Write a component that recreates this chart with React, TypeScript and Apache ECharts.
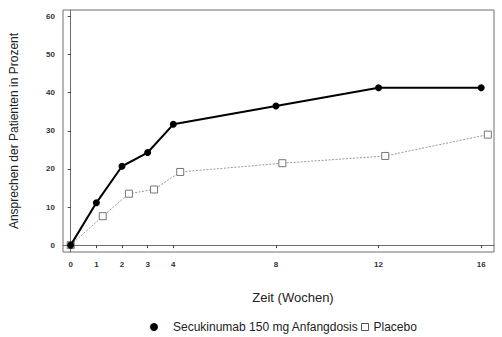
import React, { useEffect, useRef } from "react";
import * as echarts from "echarts";

const weeks = [0, 1, 2, 3, 4, 8, 12, 16];
const secukinumabValues = [0, 11.1, 20.7, 24.3, 31.7, 36.5, 41.3, 41.3];
const placeboWeeks = [0, 1.25, 2.27, 3.25, 4.27, 8.25, 12.26, 16.26];
const placeboValues = [0, 7.6, 13.5, 14.6, 19.2, 21.5, 23.4, 29.0];
const xTicks = [0, 1, 2, 3, 4, 8, 12, 16];
const yTicks = [0, 10, 20, 30, 40, 50, 60];
const secName = "Secukinumab 150 mg Anfangdosis";
const placeboName = "Placebo";

export default function App() {
  const ref = useRef<HTMLDivElement>(null);
  useEffect(() => {
    document.body.style.margin = "0";
    const chart = echarts.init(ref.current!, null, { renderer: "svg" });
    const font = "Arial, 'Liberation Sans', sans-serif";
    chart.setOption({
      animation: false,
      backgroundColor: "#ffffff",
      textStyle: { fontFamily: font },
      grid: {
        left: 61,
        top: 10,
        right: 8,
        bottom: 85,
        show: true,
        borderColor: "#6e6e6e",
        borderWidth: 1,
        containLabel: false,
      },
      xAxis: {
        type: "value",
        min: -0.3,
        max: 16.5,
        axisLine: { show: true, lineStyle: { color: "#6e6e6e" } },
        axisTick: {
          show: true,
          length: 3,
          customValues: xTicks,
          lineStyle: { color: "#444" },
        },
        axisLabel: {
          customValues: xTicks,
          margin: 8,
          fontSize: 8,
          fontWeight: "bold",
          color: "#333",
          fontFamily: font,
        },
        splitLine: { show: false },
      },
      yAxis: {
        type: "value",
        min: -1.8,
        max: 61.7,
        name: "Ansprechen der Patienten in Prozent",
        nameLocation: "middle",
        nameRotate: 90,
        nameGap: 43,
        nameTextStyle: { fontSize: 12, color: "#222", fontFamily: font },
        axisLine: { show: true, lineStyle: { color: "#6e6e6e" } },
        axisTick: {
          show: true,
          length: 3,
          customValues: yTicks,
          lineStyle: { color: "#444" },
        },
        axisLabel: {
          customValues: yTicks,
          margin: 8,
          fontSize: 8,
          fontWeight: "bold",
          color: "#333",
          fontFamily: font,
        },
        splitLine: { show: false },
      },
      legend: [
        {
          left: 145,
          top: 316,
          itemWidth: 8,
          itemHeight: 8,
          textStyle: { fontSize: 12, color: "#222", fontFamily: font, padding: [0, 0, 0, 10] },
          data: [{ name: secName, icon: "circle", itemStyle: { color: "#000" } }],
        },
        {
          left: 356,
          top: 316,
          itemWidth: 7,
          itemHeight: 7,
          itemGap: 4,
          textStyle: { fontSize: 12, color: "#222", fontFamily: font },
          data: [
            {
              name: placeboName,
              icon: "rect",
              itemStyle: { color: "#fff", borderColor: "#555", borderWidth: 1 },
            },
          ],
        },
      ],
      graphic: [
        {
          type: "text",
          x: 293,
          y: 297,
          style: {
            text: "Zeit (Wochen)",
            font: "13px Arial, 'Liberation Sans', sans-serif",
            fill: "#222",
            align: "center",
            verticalAlign: "middle",
          },
        },
      ],
      series: [
        {
          name: placeboName,
          type: "line",
          data: placeboWeeks.map((w, i) => [w, placeboValues[i]]),
          symbol: "rect",
          symbolSize: 7,
          lineStyle: { color: "#999", width: 1, type: [2, 1.5] },
          itemStyle: { color: "#fff", borderColor: "#777", borderWidth: 1 },
          z: 2,
        },
        {
          name: secName,
          type: "line",
          data: weeks.map((w, i) => [w, secukinumabValues[i]]),
          symbol: "circle",
          symbolSize: 7,
          lineStyle: { color: "#000", width: 2 },
          itemStyle: { color: "#000" },
          z: 3,
        },
      ],
    });
    return () => chart.dispose();
  }, []);
  return <div ref={ref} style={{ width: 502, height: 337 }} />;
}
